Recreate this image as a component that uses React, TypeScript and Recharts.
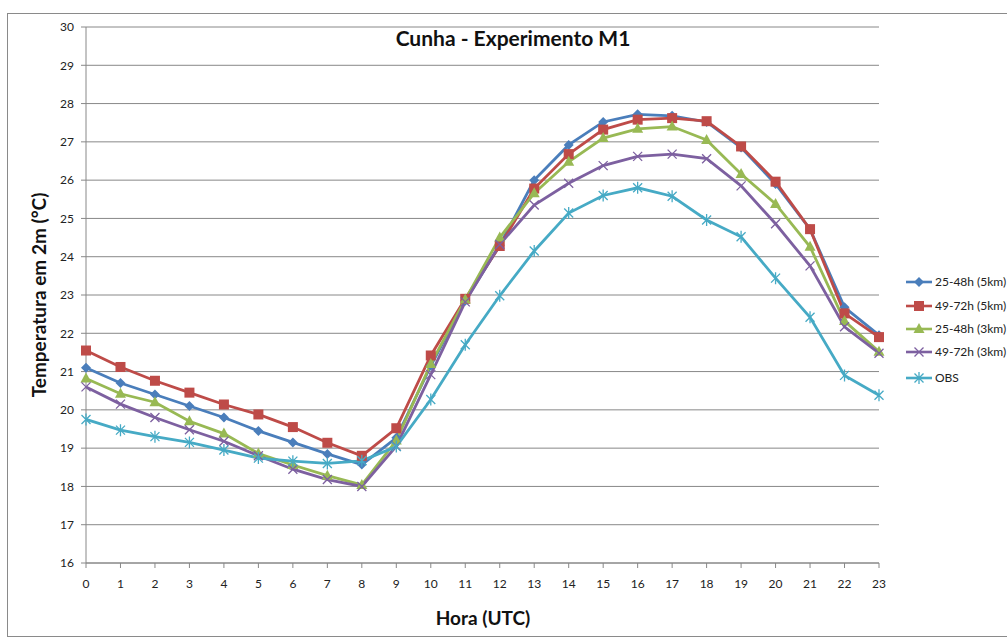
import React from "react";
import { CartesianGrid, Line, LineChart, XAxis, YAxis } from "recharts";

const hours = [0, 1, 2, 3, 4, 5, 6, 7, 8, 9, 10, 11, 12, 13, 14, 15, 16, 17, 18, 19, 20, 21, 22, 23];

const exp25h5km = [21.1, 20.7, 20.4, 20.1, 19.8, 19.45, 19.15, 18.85, 18.57, 19.27, 21.15, 22.85, 24.3, 26.0, 26.92, 27.52, 27.72, 27.68, 27.52, 26.85, 25.9, 24.72, 22.68, 21.95];
const exp49h5km = [21.55, 21.12, 20.76, 20.45, 20.14, 19.88, 19.55, 19.14, 18.8, 19.52, 21.42, 22.9, 24.28, 25.78, 26.68, 27.32, 27.58, 27.62, 27.54, 26.88, 25.96, 24.72, 22.52, 21.9];
const exp25h3km = [20.82, 20.42, 20.2, 19.7, 19.38, 18.86, 18.56, 18.28, 18.04, 19.2, 21.2, 22.88, 24.5, 25.66, 26.48, 27.1, 27.34, 27.4, 27.05, 26.16, 25.38, 24.26, 22.32, 21.52];
const exp49h3km = [20.6, 20.15, 19.8, 19.48, 19.18, 18.8, 18.45, 18.18, 18.0, 19.05, 20.92, 22.82, 24.32, 25.35, 25.92, 26.38, 26.62, 26.68, 26.56, 25.85, 24.86, 23.76, 22.17, 21.48];
const obs = [19.75, 19.47, 19.3, 19.15, 18.95, 18.74, 18.66, 18.6, 18.67, 19.04, 20.27, 21.7, 22.98, 24.15, 25.14, 25.6, 25.8, 25.58, 24.96, 24.52, 23.44, 22.42, 20.9, 20.38];

const yTicks = [16, 17, 18, 19, 20, 21, 22, 23, 24, 25, 26, 27, 28, 29, 30];

const data = hours.map((h, i) => ({
  hour: h,
  b5: exp25h5km[i],
  r5: exp49h5km[i],
  g3: exp25h3km[i],
  p3: exp49h3km[i],
  obs: obs[i],
}));

const FONT = "Lato, 'Open Sans', sans-serif";

type Shape = "diamond" | "square" | "triangle" | "x" | "star";

const Marker = ({ cx, cy, shape, color }: { cx: number; cy: number; shape: Shape; color: string }) => {
  if (shape === "diamond") {
    return <path d={`M${cx},${cy - 5}L${cx + 5},${cy}L${cx},${cy + 5}L${cx - 5},${cy}Z`} fill={color} />;
  }
  if (shape === "square") {
    return <rect x={cx - 5} y={cy - 5} width={10} height={10} fill={color} />;
  }
  if (shape === "triangle") {
    return <path d={`M${cx},${cy - 6}L${cx + 5.5},${cy + 4}L${cx - 5.5},${cy + 4}Z`} fill={color} />;
  }
  if (shape === "x") {
    return (
      <path
        d={`M${cx - 4.5},${cy - 4.5}L${cx + 4.5},${cy + 4.5}M${cx - 4.5},${cy + 4.5}L${cx + 4.5},${cy - 4.5}`}
        stroke={color}
        strokeWidth={1.3}
      />
    );
  }
  return (
    <path
      d={`M${cx - 4.5},${cy - 4.5}L${cx + 4.5},${cy + 4.5}M${cx - 4.5},${cy + 4.5}L${cx + 4.5},${cy - 4.5}M${cx},${cy - 6}L${cx},${cy + 6}`}
      stroke={color}
      strokeWidth={1.3}
    />
  );
};

const seriesDefs: Array<{ key: string; name: string; color: string; shape: Shape }> = [
  { key: "b5", name: "25-48h (5km)", color: "#4a7ebb", shape: "diamond" },
  { key: "r5", name: "49-72h (5km)", color: "#be4b48", shape: "square" },
  { key: "g3", name: "25-48h (3km)", color: "#98b954", shape: "triangle" },
  { key: "p3", name: "49-72h (3km)", color: "#7d60a0", shape: "x" },
  { key: "obs", name: "OBS", color: "#46aac5", shape: "star" },
];

const legendTops = [282, 306, 329, 352, 378];

export default function App() {
  return (
    <div
      style={{
        position: "absolute",
        left: 0,
        top: 0,
        width: 1007,
        height: 637,
        background: "#fff",
        overflow: "hidden",
        fontFamily: FONT,
      }}
    >
      <div
        style={{
          position: "absolute",
          left: 7,
          top: 13,
          width: 1020,
          height: 622,
          border: "1px solid #8a8a8a",
        }}
      />
      <div
        style={{
          position: "absolute",
          left: 0,
          top: 25,
          width: 1026,
          textAlign: "center",
          fontSize: 21,
          fontWeight: 700,
          color: "#111",
        }}
      >
        Cunha - Experimento M1
      </div>
      <div
        style={{
          position: "absolute",
          left: 38,
          top: 295,
          transform: "translate(-50%, -50%) rotate(-90deg)",
          whiteSpace: "nowrap",
          fontSize: 19,
          fontWeight: 700,
          color: "#111",
        }}
      >
        Temperatura em 2m (°C)
      </div>
      <div
        style={{
          position: "absolute",
          left: 483,
          top: 617,
          transform: "translate(-50%, -50%)",
          whiteSpace: "nowrap",
          fontSize: 19,
          fontWeight: 700,
          color: "#111",
        }}
      >
        Hora (UTC)
      </div>
      <div style={{ position: "absolute", left: 0, top: 0 }}>
        <LineChart
          width={1007}
          height={637}
          data={data}
          margin={{ top: 27, right: 128, bottom: 44, left: 46 }}
        >
          <CartesianGrid vertical={false} stroke="#888" strokeWidth={1} />
          <XAxis
            dataKey="hour"
            type="number"
            domain={[0, 23]}
            ticks={hours}
            interval={0}
            height={30}
            tickSize={5}
            tickMargin={11}
            stroke="#888"
            tick={{ fill: "#222", fontSize: 12, fontFamily: FONT }}
          />
          <YAxis
            domain={[16, 30]}
            ticks={yTicks}
            interval={0}
            width={40}
            tickSize={5}
            tickMargin={7}
            stroke="#888"
            tick={{ fill: "#222", fontSize: 12, fontFamily: FONT }}
          />
          {seriesDefs.map((s) => (
            <Line
              key={s.key}
              dataKey={s.key}
              name={s.name}
              type="linear"
              stroke={s.color}
              strokeWidth={2.8}
              isAnimationActive={false}
              dot={(p: any) => (
                <Marker key={`${s.key}-${p.index}`} cx={p.cx} cy={p.cy} shape={s.shape} color={s.color} />
              )}
              activeDot={false}
            />
          ))}
        </LineChart>
      </div>
      <svg style={{ position: "absolute", left: 900, top: 0 }} width={107} height={637}>
        {seriesDefs.map((s, i) => (
          <g key={s.key}>
            <line x1={6} x2={32} y1={legendTops[i]} y2={legendTops[i]} stroke={s.color} strokeWidth={2.6} />
            <Marker cx={19} cy={legendTops[i]} shape={s.shape} color={s.color} />
            <text x={35} y={legendTops[i] + 4} fontSize={12} fontFamily={FONT} fill="#222">
              {s.name}
            </text>
          </g>
        ))}
      </svg>
    </div>
  );
}
